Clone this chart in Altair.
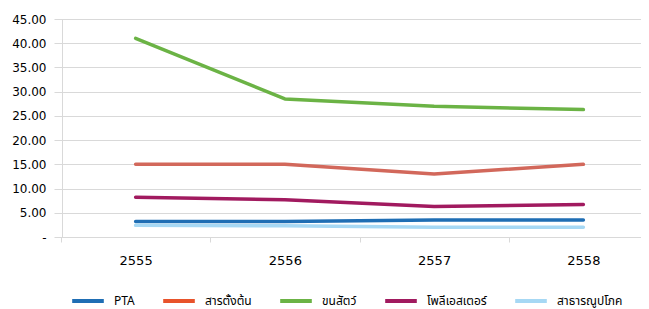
import altair as alt
import pandas as pd

years = ["2555", "2556", "2557", "2558"]
series_names = ["PTA", "สารตั้งต้น", "ขนสัตว์", "โพลีเอสเตอร์", "สาธารณูปโภค"]
pta = [3.2, 3.2, 3.5, 3.5]
precursor = [15.0, 15.0, 13.0, 15.0]
wool = [41.0, 28.5, 27.0, 26.3]
polyester = [8.2, 7.7, 6.3, 6.7]
utilities = [2.4, 2.3, 2.0, 2.0]
y_ticks = [0, 5, 10, 15, 20, 25, 30, 35, 40, 45]

legend_colors = ["#1F6EB4", "#E8532B", "#6BB345", "#A11A5F", "#A6D8F4"]
precursor_line_color = "#D2685B"

rows = []
for name, vals in zip(series_names, [pta, precursor, wool, polyester, utilities]):
    for y, v in zip(years, vals):
        rows.append({"year": y, "series": name, "value": v})
df = pd.DataFrame(rows)

FONT = "DejaVu Sans"
LEGEND_FONT = "Noto Sans Thai, Noto Sans, DejaVu Sans, sans-serif"
GRID = "#D9D9D9"

x_enc = alt.X(
    "year:N",
    scale=alt.Scale(type="band", domain=years, range=[-1, 596], paddingInner=0, paddingOuter=0),
    bandPosition=0.5,
    axis=alt.Axis(
        title=None, grid=False, tickBand="extent", domainColor=GRID, tickColor=GRID,
        tickSize=5, labelPadding=12, labelFont=FONT, labelFontSize=13, labelColor="#000000",
        labelAngle=0,
    ),
)
y_enc = alt.Y(
    "value:Q",
    scale=alt.Scale(domain=[0, 45], nice=False),
    axis=alt.Axis(
        title=None, values=y_ticks, grid=True, gridColor=GRID, tickColor=GRID, tickSize=8,
        domainColor=GRID, labelPadding=8, labelFont=FONT, labelFontSize=12,
        labelColor="#000000",
        labelExpr="datum.value == 0 ? '-' : format(datum.value, '.2f')",
    ),
)

base = alt.Chart(df)

others = base.transform_filter(alt.datum.series != "สารตั้งต้น").mark_line(
    strokeWidth=3.5, strokeCap="round", strokeJoin="round"
).encode(
    x=x_enc,
    y=y_enc,
    color=alt.Color(
        "series:N",
        scale=alt.Scale(domain=series_names, range=legend_colors),
        legend=alt.Legend(
            title=None, orient="none", legendX=8, legendY=264, direction="horizontal",
            symbolType="stroke", symbolStrokeWidth=4, symbolSize=1000,
            labelFont=LEGEND_FONT, labelFontSize=12, labelColor="#000000",
            columnPadding=20, labelOffset=8,
        ),
    ),
    order=alt.Order("series:N"),
)

prec = base.transform_filter(alt.datum.series == "สารตั้งต้น").mark_line(
    strokeWidth=3.5, strokeCap="round", strokeJoin="round", color=precursor_line_color
).encode(x=x_enc, y=y_enc)

chart = alt.layer(prec, others).properties(
    width=579, height=218,
    autosize=alt.AutoSizeParams(type="none"),
    padding={"left": 54, "top": 11, "right": 0, "bottom": 72},
).configure_view(stroke=None)

chart.save("out.html", embed_options={"renderer": "svg", "actions": False})
